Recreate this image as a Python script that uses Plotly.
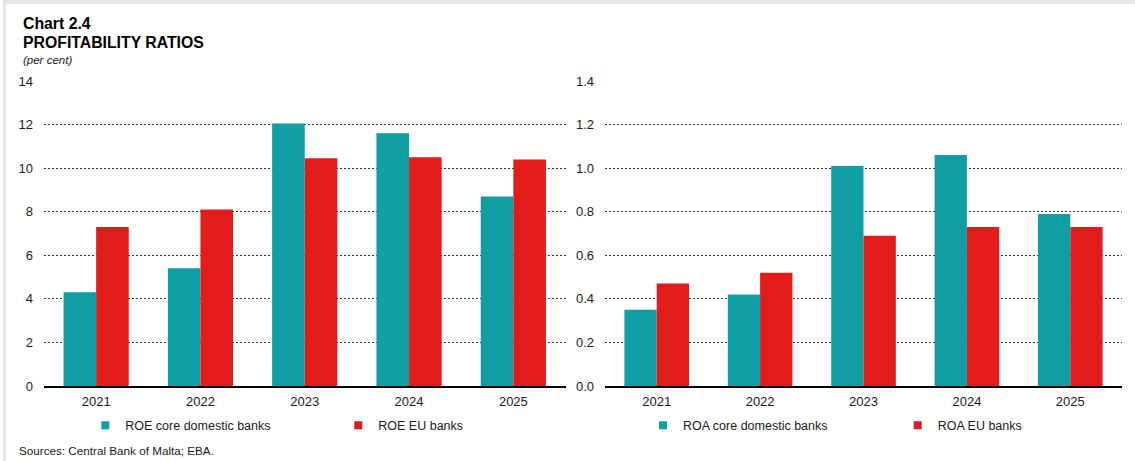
import plotly.graph_objects as go

years = ["2021", "2022", "2023", "2024", "2025"]
roe_core = [4.3, 5.4, 12.05, 11.6, 8.7]
roe_eu = [7.3, 8.1, 10.45, 10.5, 10.4]
roa_core = [0.35, 0.42, 1.01, 1.06, 0.79]
roa_eu = [0.47, 0.52, 0.69, 0.73, 0.73]

TEAL = "#0F9EA3"
RED = "#E21B1B"
FONT = "Arial, Liberation Sans, sans-serif"
TXT = "#1a1a1a"

W, H = 1135, 461
ML, MR, MT, MB = 44, 13, 81, 75
PW = W - ML - MR
PH = H - MT - MB

def px2x(px):
    return (px - ML) / PW

def px2y(py):
    return (H - MB - py) / PH

fig = go.Figure()

fig.add_trace(go.Bar(x=years, y=roe_core, name="ROE core domestic banks",
                     marker=dict(color=TEAL, line=dict(width=0)), xaxis="x", yaxis="y",
                     showlegend=False))
fig.add_trace(go.Bar(x=years, y=roe_eu, name="ROE EU banks",
                     marker=dict(color=RED, line=dict(width=0)), xaxis="x", yaxis="y",
                     showlegend=False))
fig.add_trace(go.Bar(x=years, y=roa_core, name="ROA core domestic banks",
                     marker=dict(color=TEAL, line=dict(width=0)), xaxis="x2", yaxis="y2",
                     showlegend=False))
fig.add_trace(go.Bar(x=years, y=roa_eu, name="ROA EU banks",
                     marker=dict(color=RED, line=dict(width=0)), xaxis="x2", yaxis="y2",
                     showlegend=False))

# legend entries (small square keys), one legend box per entry for exact placement
legend_items = [("ROE core domestic banks", TEAL, "legend", "x", "y", 125.3),
                ("ROE EU banks", RED, "legend2", "x", "y", 378.3),
                ("ROA core domestic banks", TEAL, "legend3", "x2", "y2", 683.0),
                ("ROA EU banks", RED, "legend4", "x2", "y2", 937.7)]
for name, col, leg, xa, ya, _ in legend_items:
    fig.add_trace(go.Scatter(x=[None], y=[None], mode="markers", name=name,
                             marker=dict(symbol="square", size=8, color=col),
                             xaxis=xa, yaxis=ya, legend=leg, showlegend=True,
                             hoverinfo="skip"))

x1_end = px2x(565.5)
x2_start = px2x(605)

grid = dict(showgrid=True, gridcolor="#333333", gridwidth=1, griddash="2px,2px",
            zeroline=False, showline=False, ticks="", ticklabelstandoff=10,
            tickfont=dict(family=FONT, size=13, color=TXT))
xax = dict(showgrid=False, zeroline=False, showline=True, linecolor="#000000",
           linewidth=1.6, ticks="", ticklabelstandoff=3,
           tickfont=dict(family=FONT, size=13, color=TXT), type="category")

fig.update_layout(
    width=W, height=H,
    margin=dict(l=ML, r=MR, t=MT, b=MB, pad=0),
    paper_bgcolor="white", plot_bgcolor="white",
    barmode="group", bargap=0.375, bargroupgap=0,
    font=dict(family=FONT, color=TXT),
    xaxis=dict(domain=[0, x1_end], anchor="y", **xax),
    xaxis2=dict(domain=[x2_start, 1], anchor="y2", **xax),
    yaxis=dict(domain=[0, 1], anchor="x", range=[0, 14], tickvals=[0, 2, 4, 6, 8, 10, 12, 14],
               **grid),
    yaxis2=dict(domain=[0, 1], anchor="x2", range=[0, 1.4],
                tickvals=[0, 0.2, 0.4, 0.6, 0.8, 1.0, 1.2, 1.4], tickformat=".1f", **grid),
    showlegend=True,
)

for name, col, leg, xa, ya, text_x in legend_items:
    fig.update_layout({leg: dict(orientation="h", x=px2x(text_x - 40), xanchor="left",
                                 y=px2y(425.7), yanchor="middle", bgcolor="rgba(0,0,0,0)",
                                 font=dict(family=FONT, size=12.5, color=TXT),
                                 itemclick=False, itemdoubleclick=False)})

annotations = [
    dict(text="<b>Chart 2.4</b>", x=px2x(21), y=px2y(23.5), xanchor="left", yanchor="middle",
         font=dict(family=FONT, size=15.8, color="#000000")),
    dict(text="<b>PROFITABILITY RATIOS</b>", x=px2x(21), y=px2y(42.5), xanchor="left",
         yanchor="middle", font=dict(family=FONT, size=15.8, color="#000000")),
    dict(text="<i>(per cent)</i>", x=px2x(21), y=px2y(60.5), xanchor="left", yanchor="middle",
         font=dict(family=FONT, size=11.5, color=TXT)),
    dict(text="Sources: Central Bank of Malta; EBA.", x=px2x(17), y=px2y(450), xanchor="left",
         yanchor="middle", font=dict(family=FONT, size=11.7, color=TXT)),
]
for a in annotations:
    a.update(xref="paper", yref="paper", showarrow=False)
fig.update_layout(annotations=annotations)

# light grey page frame at top and left
fig.add_shape(type="line", xref="paper", yref="paper", x0=px2x(4.5), x1=px2x(4.5),
              y0=px2y(3), y1=px2y(H), line=dict(color="#e6e6e6", width=3), layer="below")
fig.add_shape(type="line", xref="paper", yref="paper", x0=px2x(3), x1=px2x(W),
              y0=px2y(2), y1=px2y(2), line=dict(color="#e6e6e6", width=4), layer="below")

fig.write_html("out.html", config={"displayModeBar": False},
               post_script="document.body.style.margin='0px';document.body.style.overflow='hidden';")
